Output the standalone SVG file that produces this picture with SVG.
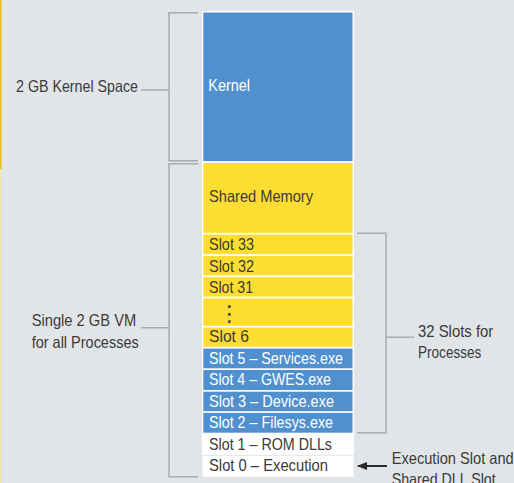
<svg xmlns="http://www.w3.org/2000/svg" width="514" height="483" viewBox="0 0 514 483">
<defs>
<style>
.t{font-family:"Liberation Sans",Arial,sans-serif;font-size:16.5px;fill:#3a3a3a}
.wt{fill:#ffffff}
.w{fill:#ffffff}
.blue{fill:#5190cf}
.yel{fill:#fedd32}
.br{fill:none;stroke:#a7acb0;stroke-width:1.5}
</style>
<marker id="ah" markerWidth="10" markerHeight="8" refX="9" refY="4" orient="auto" markerUnits="userSpaceOnUse">
<path d="M0,0 L10,4 L0,8 z" fill="#2a2a2a"/>
</marker>
</defs>
<rect width="514" height="483" fill="#e1e5e8"/>
<rect x="0" y="0" width="1.5" height="169" fill="#e6bf1e"/>
<rect x="0" y="169" width="1.5" height="314" fill="#efe4ae"/>

<g id="column">
<rect x="202" y="11" width="152" height="443.8" fill="#ffffff"/>
</g>
<g id="kernel">
<rect class="blue" x="203.3" y="12.5" width="149.2" height="148.5"/>
<text class="t wt" x="208.3" y="91" textLength="41.7" lengthAdjust="spacingAndGlyphs">Kernel</text>
</g>
<g id="shared-memory">
<rect class="yel" x="203.3" y="163" width="149.2" height="69.8"/>
<text class="t" x="209" y="201.7" textLength="104" lengthAdjust="spacingAndGlyphs">Shared Memory</text>
</g>
<g id="slot33">
<rect class="yel" x="203.3" y="234.6" width="149.2" height="19.6"/>
<text class="t" x="209" y="250.3" textLength="45" lengthAdjust="spacingAndGlyphs">Slot 33</text>
</g>
<g id="slot32">
<rect class="yel" x="203.3" y="256" width="149.2" height="19.4"/>
<text class="t" x="209" y="271.6" textLength="45" lengthAdjust="spacingAndGlyphs">Slot 32</text>
</g>
<g id="slot31">
<rect class="yel" x="203.3" y="277.2" width="149.2" height="19.4"/>
<text class="t" x="209" y="293" textLength="44" lengthAdjust="spacingAndGlyphs">Slot 31</text>
</g>
<g id="slots-ellipsis">
<rect class="yel" x="203.3" y="298.4" width="149.2" height="27.4"/>
<text x="229.3" y="321" text-anchor="middle" style="font-family:'DejaVu Sans',sans-serif;font-size:22px;fill:#3a3a3a">⋮</text>
</g>
<g id="slot6">
<rect class="yel" x="203.3" y="327.6" width="149.2" height="19.2"/>
<text class="t" x="209" y="342" textLength="40" lengthAdjust="spacingAndGlyphs">Slot 6</text>
</g>
<g id="slot5">
<rect class="blue" x="203.3" y="348.6" width="149.2" height="19.7"/>
<text class="t wt" x="209" y="363.6" textLength="134" lengthAdjust="spacingAndGlyphs">Slot 5 – Services.exe</text>
</g>
<g id="slot4">
<rect class="blue" x="203.3" y="370" width="149.2" height="20"/>
<text class="t wt" x="209" y="385.3" textLength="122" lengthAdjust="spacingAndGlyphs">Slot 4 – GWES.exe</text>
</g>
<g id="slot3">
<rect class="blue" x="203.3" y="391.7" width="149.2" height="19.5"/>
<text class="t wt" x="209" y="407" textLength="125" lengthAdjust="spacingAndGlyphs">Slot 3 – Device.exe</text>
</g>
<g id="slot2">
<rect class="blue" x="203.3" y="412.9" width="149.2" height="19.8"/>
<text class="t wt" x="209" y="428.3" textLength="124" lengthAdjust="spacingAndGlyphs">Slot 2 – Filesys.exe</text>
</g>
<g id="slot1">
<rect class="w" x="203.3" y="434.4" width="150" height="20"/>
<text class="t" x="209" y="450.2" textLength="123" lengthAdjust="spacingAndGlyphs">Slot 1 – ROM DLLs</text>
</g>
<g id="slot0">
<rect class="w" x="202.5" y="455.8" width="151" height="21.2"/>
<text class="t" x="209" y="471.3" textLength="119" lengthAdjust="spacingAndGlyphs">Slot 0 – Execution</text>
</g>

<g id="label-kernel-space">
<text class="t" x="16" y="91.7" textLength="122" lengthAdjust="spacingAndGlyphs">2 GB Kernel Space</text>
</g>
<g id="label-vm">
<text class="t" x="31.7" y="326.2" textLength="104.5" lengthAdjust="spacingAndGlyphs">Single 2 GB VM</text>
<text class="t" x="31.7" y="347.5" textLength="107" lengthAdjust="spacingAndGlyphs">for all Processes</text>
</g>
<g id="label-slots">
<text class="t" x="418" y="336.9" textLength="75.3" lengthAdjust="spacingAndGlyphs">32 Slots for</text>
<text class="t" x="418" y="357.5" textLength="63.3" lengthAdjust="spacingAndGlyphs">Processes</text>
</g>
<g id="label-exec">
<text class="t" x="391.7" y="463.5" textLength="122" lengthAdjust="spacingAndGlyphs">Execution Slot and</text>
<text class="t" x="391.7" y="484.7" textLength="104" lengthAdjust="spacingAndGlyphs">Shared DLL Slot</text>
</g>

<g id="connectors">
<path class="br" d="M198,12.7 H169 V160.7 H198 M169,90 H141"/>
<path class="br" d="M198,163.7 H169 V476.7 H198 M169,327.7 H141"/>
<path class="br" d="M357,233.3 H386 V432.7 H357 M386,337.3 H414"/>
<line x1="387" y1="466" x2="358" y2="466" stroke="#2a2a2a" stroke-width="2" marker-end="url(#ah)"/>
</g>
</svg>
